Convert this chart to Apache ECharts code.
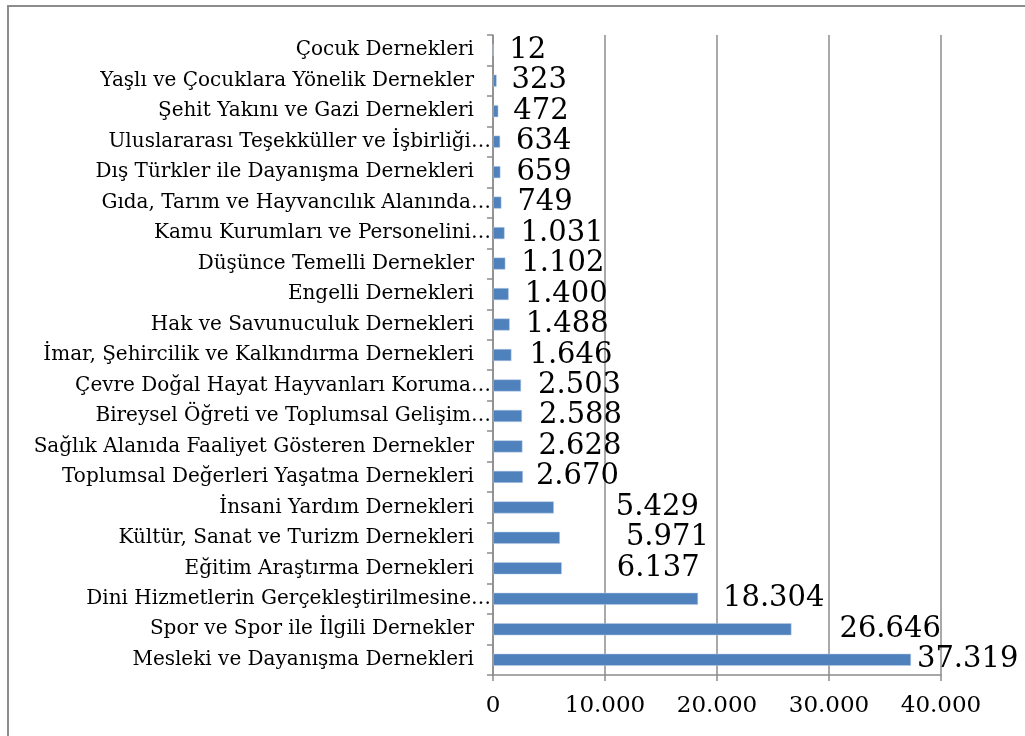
<!DOCTYPE html>
<html>
<head>
<meta charset="utf-8">
<script src="https://cdn.jsdelivr.net/npm/echarts@6/dist/echarts.min.js"></script>
<style>
html,body{margin:0;padding:0;background:#fff;}
#chart{width:1025px;height:736px;}
</style>
</head>
<body>
<div id="chart"></div>
<script>
// categories top -> bottom as in the picture
var categories = [
    'Çocuk Dernekleri',
    'Yaşlı ve Çocuklara Yönelik Dernekler',
    'Şehit Yakını ve Gazi Dernekleri',
    'Uluslararası Teşekküller ve İşbirliği…',
    'Dış Türkler ile Dayanışma Dernekleri',
    'Gıda, Tarım ve Hayvancılık Alanında…',
    'Kamu Kurumları ve Personelini…',
    'Düşünce Temelli Dernekler',
    'Engelli Dernekleri',
    'Hak ve Savunuculuk Dernekleri',
    'İmar, Şehircilik ve Kalkındırma Dernekleri',
    'Çevre Doğal Hayat Hayvanları Koruma…',
    'Bireysel Öğreti ve Toplumsal Gelişim…',
    'Sağlık Alanıda Faaliyet Gösteren Dernekler',
    'Toplumsal Değerleri Yaşatma Dernekleri',
    'İnsani Yardım Dernekleri',
    'Kültür, Sanat ve Turizm Dernekleri',
    'Eğitim Araştırma Dernekleri',
    'Dini Hizmetlerin Gerçekleştirilmesine…',
    'Spor ve Spor ile İlgili Dernekler',
    'Mesleki ve Dayanışma Dernekleri'
];
var counts = [12, 323, 472, 634, 659, 749, 1031, 1102, 1400, 1488, 1646,
    2503, 2588, 2628, 2670, 5429, 5971, 6137, 18304, 26646, 37319];
var xTicks = [0, 10000, 20000, 30000, 40000];

// data labels were nudged by hand in the original
var labelGap = [16, 15, 15, 16, 16, 16, 16, 16, 16, 16, 18,
    17, 17, 16, 13, 62, 66, 55, 25, 48, 6];

function fmt(v) {
    return String(v).replace(/\B(?=(\d{3})+(?!\d))/g, '.');
}

var font = '"DejaVu Serif", "Liberation Serif", serif';

var barData = counts.map(function (v, i) {
    return { value: v, label: { distance: labelGap[i] } };
});

var chart = echarts.init(document.getElementById('chart'));
chart.setOption({
    animation: false,
    graphic: [{
        type: 'rect',
        shape: { x: 8, y: 6, width: 1100, height: 800 },
        style: { fill: 'none', stroke: '#8c8c8c', lineWidth: 2 }
    }],
    grid: {
        left: 493,
        right: 84,
        top: 35,
        bottom: 61
    },
    xAxis: {
        type: 'value',
        min: xTicks[0],
        max: xTicks[xTicks.length - 1],
        interval: 10000,
        axisLine: { show: true, lineStyle: { color: '#8c8c8c', width: 1.5 } },
        axisTick: { show: true, length: 6, lineStyle: { color: '#8c8c8c', width: 1.5 } },
        axisLabel: {
            margin: 20,
            fontFamily: font,
            fontSize: 23,
            color: '#000',
            formatter: function (v) { return fmt(v); }
        },
        splitLine: { show: true, lineStyle: { color: '#8c8c8c', width: 1.5 } }
    },
    yAxis: {
        type: 'category',
        inverse: true,
        data: categories,
        axisLine: { show: true, lineStyle: { color: '#8c8c8c', width: 1.5 } },
        axisTick: { show: true, length: 6, lineStyle: { color: '#8c8c8c', width: 1.5 } },
        axisLabel: {
            margin: 2,
            fontFamily: font,
            fontSize: 20,
            color: '#000',
            formatter: function (v) {
                return v.slice(-1) === '…' ? v : '{p|' + v + '}';
            },
            rich: {
                p: { fontFamily: font, fontSize: 20, color: '#000', padding: [0, 17, 0, 0] }
            }
        }
    },
    series: [{
        type: 'bar',
        data: barData,
        barWidth: 12,
        itemStyle: { color: '#4f81bd', borderColor: '#b9cde5', borderWidth: 0.5 },
        label: {
            show: true,
            position: 'right',
            fontFamily: font,
            fontSize: 29,
            color: '#000',
            formatter: function (p) { return fmt(p.value); }
        }
    }]
});
</script>
</body>
</html>
